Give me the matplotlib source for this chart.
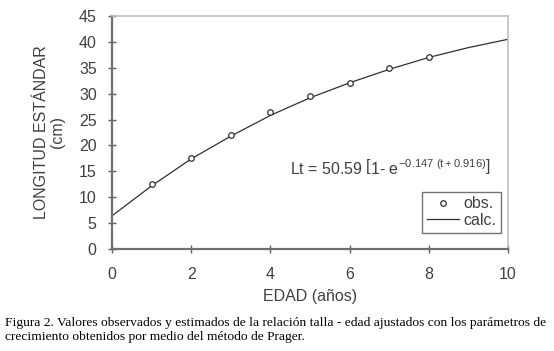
import matplotlib.pyplot as plt

# observed lengths by age
obs_age = [1, 2, 3, 4, 5, 6, 7, 8]
obs_len = [12.5, 17.5, 22.0, 26.5, 29.5, 32.0, 35.0, 37.0]

# calculated curve at each age
calc_age = [0, 1, 2, 3, 4, 5, 6, 7, 8, 9, 10]
calc_len = [6.4, 12.2, 17.4, 21.8, 25.8, 29.2, 32.1, 34.7, 37.0, 38.9, 40.5]

xticks = [0, 2, 4, 6, 8, 10]
yticks = [0, 5, 10, 15, 20, 25, 30, 35, 40, 45]

plt.rcParams['font.family'] = ['Liberation Sans', 'DejaVu Sans']
plt.rcParams['mathtext.fontset'] = 'custom'
plt.rcParams['mathtext.rm'] = 'Liberation Sans'
plt.rcParams['mathtext.it'] = 'Liberation Sans'

txt = '#404040'
fig = plt.figure(figsize=(5.54, 3.51), dpi=100)
ax = fig.add_axes([112 / 554, 1 - 249 / 351, 396 / 554, 233 / 351])

ax.plot(calc_age, calc_len, color='#303030', lw=0.9, label='calc.')
ax.plot(obs_age, obs_len, linestyle='none', marker='o', ms=4, mfc='white',
        mec='#303030', mew=0.9, label='obs.')

ax.set_xlim(0, 10)
ax.set_ylim(0, 45)
ax.set_xticks(xticks)
ax.set_yticks(yticks)
ax.tick_params(direction='inout', length=6, width=1, color='#606060',
               labelsize=11.5, labelcolor=txt, pad=8)
ax.tick_params(axis='x', pad=10)
for s in ['left', 'bottom']:
    ax.spines[s].set_color('#707070')
    ax.spines[s].set_linewidth(1.6)
for s in ['top', 'right']:
    ax.spines[s].set_color('#c0c0c0')
    ax.spines[s].set_linewidth(1.2)

ax.set_xlabel('EDAD (años)', fontsize=11.5, color=txt, labelpad=5)
ax.set_ylabel('LONGITUD ESTÁNDAR\n(cm)', fontsize=11.5, color=txt, labelpad=10,
              linespacing=1.1)

ax.text(4.5, 15.8, r'Lt = 50.59 $\left[1\text{- } e^{-0.147\ (t+0.916)}\right]$',
        fontsize=11.5, color=txt, va='center', ha='left')

handles, labels = ax.get_legend_handles_labels()
leg = ax.legend(handles[::-1], labels[::-1], loc='lower right',
                bbox_to_anchor=(0.983, 0.07), fontsize=11.5, frameon=True,
                fancybox=False, edgecolor='#505050', handlelength=2.0,
                borderpad=0.3, labelspacing=0.1, handletextpad=0.3,
                borderaxespad=0)
leg.get_frame().set_linewidth(1.0)
for t in leg.get_texts():
    t.set_color(txt)

fig.text(5 / 554, 1 - 330 / 351,
         'Figura 2. Valores observados y estimados de la relación talla - edad ajustados con los parámetros de\n'
         'crecimiento obtenidos por medio del método de Prager.',
         family=['Liberation Serif', 'DejaVu Serif'], fontsize=9.7, va='center',
         ha='left', linespacing=1.3, color='black')

fig.savefig('out.png', dpi=100)
